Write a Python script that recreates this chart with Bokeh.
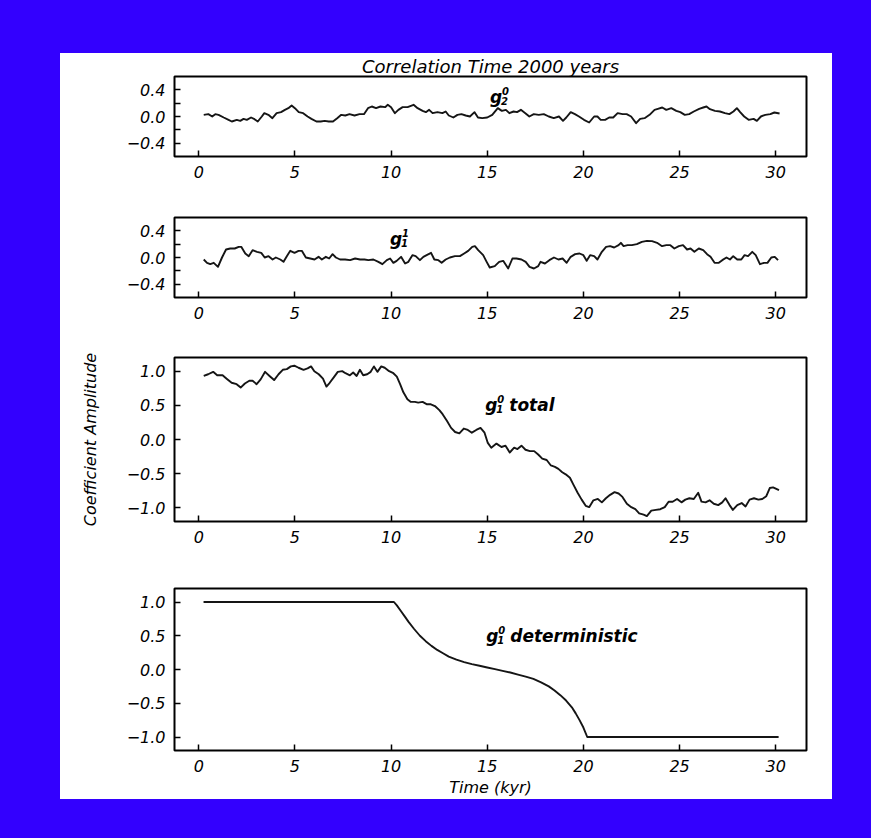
from bokeh.plotting import figure
from bokeh.layouts import column, row
from bokeh.models import (Range1d, FixedTicker, CustomJSTickFormatter, Label,
                          Spacer, GlobalInlineStyleSheet)
from bokeh.embed import file_html
from bokeh.resources import INLINE

# ---------------- data ----------------
x_ticks = [0, 5, 10, 15, 20, 25, 30]
small_y_ticks = [-0.4, 0.0, 0.4]
small_y_minor = [-0.2, 0.2]
big_y_ticks = [-1.0, -0.5, 0.0, 0.5, 1.0]

# g2^0  (time kyr, amplitude)
g20 = [(0.26, 0.025), (0.5, 0.035), (0.7, 0.0), (0.86, 0.035), (1.03, 0.025), (1.3, -0.015),
       (1.55, -0.05), (1.72, -0.075), (1.98, -0.05), (2.16, -0.065), (2.33, -0.035), (2.5, -0.05),
       (2.72, -0.015), (2.9, -0.04), (3.07, -0.075), (3.28, 0.0), (3.41, 0.05), (3.62, 0.025),
       (3.83, -0.025), (4.05, 0.05), (4.28, 0.065), (4.48, 0.1), (4.66, 0.125), (4.83, 0.165),
       (5.0, 0.125), (5.2, 0.065), (5.43, 0.05), (5.66, 0.0), (5.86, -0.035), (6.12, -0.075),
       (6.34, -0.075), (6.55, -0.065), (6.76, -0.075), (6.98, -0.075), (7.2, -0.025), (7.41, 0.025),
       (7.62, 0.015), (7.84, 0.035), (8.1, 0.015), (8.36, 0.035), (8.59, 0.035), (8.8, 0.125),
       (9.0, 0.15), (9.22, 0.125), (9.45, 0.15), (9.69, 0.14), (9.83, 0.175), (10.0, 0.14),
       (10.2, 0.05), (10.38, 0.1), (10.6, 0.14), (10.86, 0.14), (11.17, 0.175), (11.38, 0.125),
       (11.64, 0.085), (11.81, 0.065), (11.98, 0.1), (12.16, 0.05), (12.41, 0.065), (12.67, 0.05),
       (12.84, 0.075), (13.0, 0.015), (13.24, -0.015), (13.45, 0.025), (13.66, 0.035), (13.88, 0.015),
       (14.1, 0.0), (14.34, 0.065), (14.52, -0.015), (14.74, -0.025), (15.0, -0.015), (15.26, 0.025),
       (15.55, 0.125), (15.76, 0.085), (15.97, 0.1), (16.15, 0.05), (16.37, 0.075), (16.55, 0.065),
       (16.75, 0.1), (16.98, 0.05), (17.19, 0.0), (17.42, 0.035), (17.68, 0.025), (17.94, 0.035),
       (18.2, 0.0), (18.46, -0.025), (18.73, 0.0), (18.94, -0.065), (19.11, -0.015), (19.34, 0.065),
       (19.56, 0.035), (19.77, 0.0), (20.03, -0.05), (20.3, -0.09), (20.56, 0.0), (20.73, 0.0),
       (20.9, -0.05), (21.13, -0.05), (21.34, -0.015), (21.55, -0.015), (21.78, 0.05), (22.04, 0.035),
       (22.25, 0.035), (22.48, 0.0), (22.74, -0.1), (22.95, -0.035), (23.18, -0.025), (23.44, 0.025),
       (23.7, 0.1), (23.87, 0.115), (24.1, 0.135), (24.31, 0.1), (24.57, 0.125), (24.83, 0.085),
       (25.04, 0.065), (25.27, 0.025), (25.5, 0.035), (25.74, 0.075), (26.02, 0.115), (26.23, 0.135),
       (26.4, 0.15), (26.58, 0.11), (26.84, 0.085), (27.1, 0.075), (27.36, 0.05), (27.59, 0.035),
       (27.8, 0.075), (27.98, 0.125), (28.15, 0.065), (28.36, 0.0), (28.59, -0.05), (28.85, -0.035),
       (29.02, -0.065), (29.23, 0.0), (29.46, 0.025), (29.72, 0.035), (29.93, 0.06), (30.2, 0.045)]

# g1^1
g11 = [(0.26, -0.03), (0.43, -0.08), (0.6, -0.1), (0.78, -0.08), (1.0, -0.14), (1.21, 0.0),
       (1.42, 0.12), (1.64, 0.135), (1.87, 0.135), (2.08, 0.16), (2.21, 0.16), (2.42, 0.06),
       (2.6, 0.02), (2.8, 0.11), (3.03, 0.085), (3.25, 0.07), (3.43, 0.0), (3.63, 0.02),
       (3.84, -0.03), (4.01, 0.0), (4.24, -0.03), (4.41, -0.065), (4.58, 0.02), (4.76, 0.1),
       (4.98, 0.07), (5.19, 0.1), (5.36, 0.1), (5.57, 0.0), (5.8, -0.015), (6.02, -0.03),
       (6.23, 0.01), (6.4, -0.03), (6.61, 0.01), (6.78, -0.015), (6.96, 0.05), (7.13, 0.0),
       (7.35, -0.03), (7.61, -0.03), (7.87, -0.04), (8.13, -0.015), (8.39, -0.03), (8.62, -0.03),
       (8.82, -0.04), (9.08, -0.03), (9.34, -0.065), (9.55, -0.1), (9.78, -0.04), (9.95, -0.015),
       (10.12, -0.08), (10.29, -0.05), (10.52, 0.01), (10.73, -0.09), (10.9, -0.065), (11.11, 0.035),
       (11.28, 0.02), (11.5, -0.04), (11.68, 0.01), (11.85, 0.035), (12.08, 0.07), (12.25, -0.03),
       (12.46, -0.04), (12.63, -0.08), (12.84, -0.03), (13.06, 0.0), (13.32, 0.02), (13.58, 0.02),
       (13.8, 0.06), (14.01, 0.1), (14.22, 0.16), (14.36, 0.17), (14.53, 0.11), (14.79, 0.035),
       (14.97, -0.065), (15.13, -0.15), (15.39, -0.13), (15.62, -0.065), (15.83, -0.05), (16.09, -0.165),
       (16.31, -0.015), (16.52, -0.015), (16.78, -0.03), (17.0, -0.065), (17.2, -0.14), (17.43, -0.165),
       (17.65, -0.13), (17.77, -0.065), (18.0, -0.09), (18.23, -0.04), (18.47, 0.0), (18.7, -0.03),
       (18.92, -0.015), (19.13, -0.08), (19.34, 0.01), (19.57, 0.05), (19.8, 0.06), (20.0, 0.035),
       (20.17, -0.05), (20.35, 0.035), (20.56, 0.02), (20.73, -0.03), (20.96, 0.085), (21.18, 0.16),
       (21.39, 0.17), (21.6, 0.15), (21.83, 0.185), (21.95, 0.22), (22.09, 0.17), (22.3, 0.185),
       (22.52, 0.185), (22.78, 0.2), (23.04, 0.235), (23.3, 0.25), (23.57, 0.245), (23.83, 0.22),
       (24.09, 0.17), (24.31, 0.185), (24.52, 0.185), (24.73, 0.135), (24.96, 0.17), (25.18, 0.185),
       (25.39, 0.12), (25.57, 0.135), (25.77, 0.085), (26.0, 0.135), (26.23, 0.11), (26.43, 0.05),
       (26.61, 0.01), (26.82, -0.08), (27.04, -0.08), (27.22, -0.04), (27.44, 0.0), (27.62, -0.03),
       (27.79, 0.02), (28.0, -0.03), (28.21, -0.03), (28.38, 0.035), (28.56, 0.02), (28.78, 0.085),
       (28.96, 0.035), (29.18, -0.1), (29.39, -0.08), (29.57, -0.08), (29.77, 0.0), (29.95, 0.01),
       (30.12, -0.04)]

# g1^0 total
g10_total = [(0.26, 0.93), (0.49, 0.955), (0.75, 0.99), (0.96, 0.94), (1.24, 0.94), (1.45, 0.89),
             (1.71, 0.83), (1.97, 0.81), (2.18, 0.76), (2.4, 0.82), (2.63, 0.86), (2.8, 0.86),
             (3.01, 0.81), (3.22, 0.88), (3.45, 0.99), (3.68, 0.93), (3.92, 0.87), (4.15, 0.955),
             (4.37, 1.02), (4.58, 1.03), (4.79, 1.07), (4.97, 1.08), (5.19, 1.05), (5.45, 1.02),
             (5.66, 1.04), (5.84, 1.07), (6.01, 1.0), (6.24, 0.955), (6.46, 0.89), (6.64, 0.775),
             (6.81, 0.83), (7.02, 0.91), (7.23, 0.99), (7.46, 1.0), (7.63, 0.97), (7.86, 0.94),
             (8.03, 0.98), (8.21, 0.93), (8.38, 1.02), (8.55, 0.94), (8.76, 0.955), (8.94, 0.99),
             (9.11, 1.07), (9.29, 0.99), (9.49, 1.07), (9.67, 1.05), (9.9, 1.0), (10.12, 0.97),
             (10.3, 0.92), (10.47, 0.81), (10.64, 0.69), (10.85, 0.59), (11.03, 0.55), (11.24, 0.55),
             (11.41, 0.54), (11.64, 0.55), (11.87, 0.515), (12.07, 0.515), (12.28, 0.49), (12.51, 0.43),
             (12.68, 0.37), (12.91, 0.27), (13.12, 0.17), (13.33, 0.11), (13.55, 0.09), (13.78, 0.16),
             (13.99, 0.14), (14.2, 0.1), (14.43, 0.14), (14.65, 0.17), (14.86, 0.1), (15.03, -0.05),
             (15.21, -0.12), (15.48, -0.06), (15.74, -0.11), (15.95, -0.09), (16.17, -0.19), (16.4, -0.12),
             (16.57, -0.14), (16.78, -0.09), (16.99, -0.15), (17.22, -0.17), (17.44, -0.17), (17.65, -0.22),
             (17.86, -0.28), (18.09, -0.3), (18.31, -0.38), (18.52, -0.4), (18.7, -0.43), (18.9, -0.48),
             (19.08, -0.51), (19.3, -0.56), (19.48, -0.66), (19.7, -0.78), (19.91, -0.88), (20.12, -0.97),
             (20.3, -0.99), (20.52, -0.89), (20.75, -0.87), (20.96, -0.92), (21.17, -0.86), (21.39, -0.81),
             (21.62, -0.77), (21.83, -0.79), (22.03, -0.84), (22.26, -0.94), (22.49, -0.99), (22.7, -1.02),
             (22.9, -1.08), (23.13, -1.1), (23.3, -1.12), (23.53, -1.04), (23.77, -1.03), (24.0, -1.02),
             (24.23, -0.99), (24.43, -0.91), (24.64, -0.91), (24.87, -0.87), (25.1, -0.92), (25.3, -0.88),
             (25.51, -0.86), (25.74, -0.87), (25.97, -0.78), (26.14, -0.91), (26.35, -0.92), (26.56, -0.89),
             (26.78, -0.94), (27.01, -0.96), (27.22, -0.92), (27.39, -0.86), (27.6, -0.96), (27.77, -1.03),
             (28.0, -0.96), (28.23, -0.93), (28.43, -0.98), (28.64, -0.88), (28.87, -0.86), (29.1, -0.88),
             (29.3, -0.87), (29.51, -0.83), (29.69, -0.71), (29.86, -0.7), (30.17, -0.74)]

# g1^0 deterministic
g10_det = [(0.25, 1.0), (10.15, 1.0), (10.3, 0.95), (10.5, 0.87), (10.7, 0.79), (10.9, 0.71),
           (11.2, 0.6), (11.5, 0.5), (11.8, 0.42), (12.1, 0.35), (12.4, 0.29), (12.7, 0.24),
           (13.0, 0.19), (13.4, 0.145), (13.8, 0.11), (14.2, 0.08), (14.6, 0.055), (15.0, 0.03),
           (15.4, 0.005), (15.8, -0.02), (16.2, -0.045), (16.6, -0.075), (17.0, -0.105),
           (17.4, -0.14), (17.8, -0.19), (18.2, -0.25), (18.5, -0.31), (18.8, -0.38), (19.1, -0.46),
           (19.4, -0.56), (19.6, -0.65), (19.8, -0.75), (20.0, -0.86), (20.2, -1.0), (30.15, -1.0)]

# ---------------- styling ----------------
BLUE = "#3300fe"
FONT = "DejaVu Sans"
LINE = "#151515"

yfmt_code = 'return (tick < -1e-9 ? "\u2212" : "") + Math.abs(tick).toFixed(1);'


def make_fig(h, top, bottom, yr, yticks, yminor, title=None):
    p = figure(width=772, height=h, x_range=Range1d(-1.26, 31.6), y_range=Range1d(*yr),
               output_backend="svg", toolbar_location=None,
               min_border_left=114, min_border_right=26,
               min_border_top=top, min_border_bottom=bottom)
    p.background_fill_color = "white"
    p.border_fill_color = "white"
    p.outline_line_color = "black"
    p.outline_line_width = 2
    p.grid.visible = False
    if title:
        p.title.text = title
        p.title.align = "center"
        p.title.text_font = FONT
        p.title.text_font_style = "italic"
        p.title.text_font_size = "18px"
        p.title.text_color = "black"
        p.title.standoff = 0
    for ax in (p.xaxis[0], p.yaxis[0]):
        ax.axis_line_color = None
        ax.major_tick_in = 6
        ax.major_tick_out = 0
        ax.minor_tick_in = 6
        ax.minor_tick_out = 0
        ax.major_tick_line_color = "black"
        ax.major_tick_line_width = 1.5
        ax.minor_tick_line_color = "black"
        ax.minor_tick_line_width = 1.5
        ax.major_label_text_font = FONT
        ax.major_label_text_font_style = "italic"
        ax.major_label_text_font_size = "16px"
        ax.major_label_text_color = "black"
        ax.major_label_standoff = 9
        ax.axis_label_text_color = "black"
    p.xaxis[0].ticker = FixedTicker(ticks=x_ticks, minor_ticks=[])
    p.yaxis[0].ticker = FixedTicker(ticks=yticks, minor_ticks=yminor)
    p.yaxis[0].formatter = CustomJSTickFormatter(code=yfmt_code)
    return p


def add_glabel(p, x, y, sup, sub, rest=None):
    common = dict(text_font=FONT, text_color="black", text_baseline="alphabetic")
    p.add_layout(Label(x=x, y=y, text="g", text_font_style="bold italic",
                       text_font_size="17px", **common))
    p.add_layout(Label(x=x, y=y, x_offset=12, y_offset=6, text=sup,
                       text_font_style="bold italic", text_font_size="10px", **common))
    p.add_layout(Label(x=x, y=y, x_offset=11, y_offset=-4, text=sub,
                       text_font_style="bold italic", text_font_size="10px", **common))
    if rest:
        p.add_layout(Label(x=x, y=y, x_offset=24, text=rest, text_font_style="bold italic",
                           text_font_size="17px", **common))


def draw(p, pairs):
    t = [a for a, _ in pairs]
    v = [b for _, b in pairs]
    p.line(t, v, line_color=LINE, line_width=1.9, line_join="round")


p1 = make_fig(137, 23, 34, (-0.6, 0.6), small_y_ticks, small_y_minor,
              title="Correlation Time 2000 years")
draw(p1, g20)
add_glabel(p1, 15.15, 0.30, "0", "2")

p2 = make_fig(140, 27, 33, (-0.6, 0.6), small_y_ticks, small_y_minor)
draw(p2, g11)
add_glabel(p2, 9.95, 0.28, "1", "1")

p3 = make_fig(228, 27, 37, (-1.2, 1.2), big_y_ticks, [])
draw(p3, g10_total)
add_glabel(p3, 14.9, 0.5, "0", "1", "total")
p3.yaxis[0].axis_label = "Coefficient Amplitude"
p3.yaxis[0].axis_label_text_font = FONT
p3.yaxis[0].axis_label_text_font_style = "italic"
p3.yaxis[0].axis_label_text_font_size = "16px"
p3.yaxis[0].axis_label_standoff = 24

p4 = make_fig(241, 30, 49, (-1.2, 1.2), big_y_ticks, [])
draw(p4, g10_det)
add_glabel(p4, 14.95, 0.5, "0", "1", "deterministic")
p4.xaxis[0].axis_label = "Time (kyr)"
p4.xaxis[0].axis_label_text_font = FONT
p4.xaxis[0].axis_label_text_font_style = "italic"
p4.xaxis[0].axis_label_text_font_size = "16px"
p4.xaxis[0].axis_label_standoff = 3

blue = {"background-color": BLUE}
panel = column(p1, p2, p3, p4, spacing=0, styles={"background-color": "white"})
middle = row(Spacer(width=60, height=746, styles=blue), panel,
             Spacer(width=8, height=746, styles=blue), spacing=0)
root = column(Spacer(width=840, height=53, styles=blue), middle,
              Spacer(width=840, height=8, styles=blue), spacing=0)
root.stylesheets = [GlobalInlineStyleSheet(css="body { background-color: #3300fe; }")]

open("out.html", "w").write(file_html(root, INLINE))
